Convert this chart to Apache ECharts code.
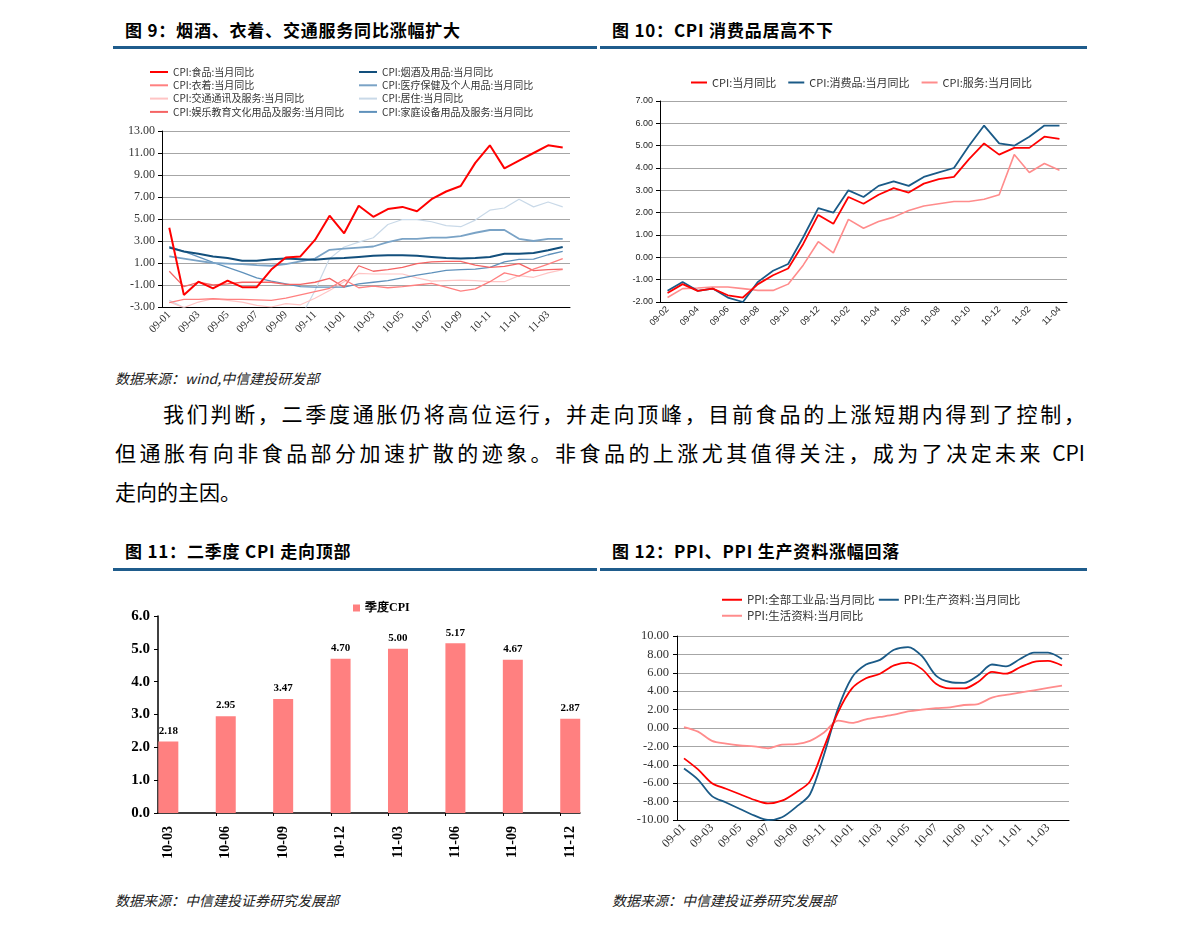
<!DOCTYPE html>
<html><head><meta charset="utf-8">
<script src="https://cdn.jsdelivr.net/npm/echarts@6/dist/echarts.min.js"></script>
<style>
body{margin:0;background:#fff;width:1191px;height:928px;position:relative;overflow:hidden;font-family:"Noto Sans CJK SC",sans-serif;}
.abs{position:absolute;}
.hdr{font-size:17px;line-height:20px;font-weight:bold;color:#000;white-space:nowrap;letter-spacing:0.8px;}
.rule{height:3px;background:#1f5c8c;}
.src{font-size:14px;line-height:18px;font-style:italic;color:#222;white-space:nowrap;}
.para{font-size:21px;line-height:26px;color:#000;white-space:nowrap;text-align:justify;text-align-last:justify;}
</style></head><body>
<div class="abs hdr" style="left:125px;top:20px;">图 9：烟酒、衣着、交通服务同比涨幅扩大</div>
<div class="abs hdr" style="left:612px;top:20px;">图 10：CPI 消费品居高不下</div>
<div class="abs rule" style="left:113px;top:46px;width:484px;"></div>
<div class="abs rule" style="left:600px;top:46px;width:487px;"></div>
<div id="c9" class="abs" style="left:110px;top:55px;width:480px;height:290px;"></div>
<div id="c10" class="abs" style="left:610px;top:60px;width:480px;height:285px;"></div>
<div class="abs src" style="left:115px;top:369px;">数据来源：wind,中信建投研发部</div>
<div class="abs para" style="left:163px;top:400px;width:922px;">我们判断，二季度通胀仍将高位运行，并走向顶峰，目前食品的上涨短期内得到了控制，</div>
<div class="abs para" style="left:115px;top:439px;width:970px;">但通胀有向非食品部分加速扩散的迹象。非食品的上涨尤其值得关注，成为了决定未来 CPI</div>
<div class="abs para" style="left:115px;top:478px;text-align-last:auto;">走向的主因。</div>
<div class="abs hdr" style="left:125px;top:541px;">图 11：二季度 CPI 走向顶部</div>
<div class="abs hdr" style="left:612px;top:541px;">图 12：PPI、PPI 生产资料涨幅回落</div>
<div class="abs rule" style="left:113px;top:568px;width:484px;"></div>
<div class="abs rule" style="left:600px;top:568px;width:487px;"></div>
<div id="c11" class="abs" style="left:110px;top:590px;width:480px;height:290px;"></div>
<div id="c12" class="abs" style="left:610px;top:580px;width:480px;height:300px;"></div>
<div class="abs src" style="left:115px;top:891px;">数据来源：中信建投证券研究发展部</div>
<div class="abs src" style="left:612px;top:891px;">数据来源：中信建投证券研究发展部</div>
<script>
// ---------- DATA ----------
const months28 = ['09-01','09-02','09-03','09-04','09-05','09-06','09-07','09-08','09-09','09-10','09-11','09-12',
  '10-01','10-02','10-03','10-04','10-05','10-06','10-07','10-08','10-09','10-10','10-11','10-12',
  '11-01','11-02','11-03','11-04'];
const months27 = ['09-02','09-03','09-04','09-05','09-06','09-07','09-08','09-09','09-10','09-11','09-12',
  '10-01','10-02','10-03','10-04','10-05','10-06','10-07','10-08','10-09','10-10','10-11','10-12',
  '11-01','11-02','11-03','11-04'];

// Fig 9
const food = [4.2,-1.9,-0.7,-1.3,-0.6,-1.2,-1.2,0.4,1.5,1.6,3.1,5.3,3.7,6.2,5.2,5.9,6.1,5.7,6.8,7.5,8.0,10.1,11.7,9.6,10.3,11.0,11.7,11.5];
const tobacco = [2.4,2.05,1.85,1.6,1.45,1.2,1.2,1.35,1.4,1.35,1.3,1.4,1.45,1.55,1.65,1.7,1.7,1.65,1.55,1.45,1.4,1.45,1.55,1.85,1.85,1.9,2.15,2.45];
const clothing = [-2.6,-2.3,-2.3,-2.25,-2.3,-2.3,-2.35,-2.4,-2.2,-1.9,-1.6,-1.3,-0.5,-1.25,-1.1,-1.25,-1.15,-1.0,-0.85,-1.2,-1.55,-1.35,-0.7,0.1,-0.2,0.45,0.9,1.4];
const medical = [1.6,1.4,1.2,1.0,0.95,0.9,0.8,0.75,0.9,1.15,1.4,2.2,2.3,2.4,2.5,2.9,3.2,3.2,3.3,3.3,3.45,3.75,4.0,4.0,3.2,3.0,3.2,3.2];
const transport = [-2.55,-3.05,-2.55,-2.25,-2.4,-2.55,-2.85,-3.0,-2.7,-2.8,-2.2,-1.5,-0.7,0.05,0.0,0.0,0.0,-0.35,-0.65,-0.6,-0.55,-0.6,-0.7,-0.7,-0.15,-0.3,0.1,0.4];
const residence = [-2.4,-3.05,-3.6,-4.0,-4.3,-4.5,-4.6,-4.6,-4.3,-4.0,-1.5,1.4,2.45,2.9,3.3,4.5,4.95,4.95,4.75,4.4,4.3,4.9,5.8,6.0,6.8,6.1,6.55,6.1];
const entertainment = [0.25,-1.15,-0.75,-1.0,-0.9,-0.75,-0.75,-0.75,-0.95,-0.95,-0.75,-0.4,-1.2,0.75,0.25,0.4,0.6,0.95,1.1,1.15,1.15,0.8,0.6,0.7,0.95,0.3,0.4,0.45];
const household = [2.5,2.05,1.55,1.05,0.6,0.15,-0.35,-0.65,-0.9,-1.15,-1.2,-1.2,-1.2,-0.9,-0.75,-0.6,-0.35,-0.1,0.1,0.33,0.4,0.45,0.6,1.1,1.33,1.35,1.75,2.05];
const fig9Names = ['CPI:食品:当月同比','CPI:衣着:当月同比','CPI:交通通讯及服务:当月同比','CPI:娱乐教育文化用品及服务:当月同比',
  'CPI:烟酒及用品:当月同比','CPI:医疗保健及个人用品:当月同比','CPI:居住:当月同比','CPI:家庭设备用品及服务:当月同比'];
const fig9Ticks = [-3,-1,1,3,5,7,9,11,13];

// Fig 10
const cpi = [-1.6,-1.2,-1.5,-1.4,-1.7,-1.8,-1.2,-0.8,-0.5,0.6,1.9,1.5,2.7,2.4,2.8,3.1,2.9,3.3,3.5,3.6,4.4,5.1,4.6,4.9,4.9,5.4,5.3];
const goods = [-1.5,-1.1,-1.5,-1.4,-1.8,-2.0,-1.1,-0.6,-0.3,0.9,2.2,2.0,3.0,2.7,3.2,3.4,3.2,3.6,3.8,4.0,5.0,5.9,5.1,5.0,5.4,5.9,5.9];
const services = [-1.8,-1.4,-1.37,-1.33,-1.33,-1.4,-1.48,-1.48,-1.2,-0.35,0.7,0.2,1.7,1.3,1.6,1.8,2.1,2.3,2.4,2.5,2.5,2.6,2.8,4.6,3.8,4.2,3.9];
const fig10Names = ['CPI:当月同比','CPI:消费品:当月同比','CPI:服务:当月同比'];

// Fig 11
const quarters = ['10-03','10-06','10-09','10-12','11-03','11-06','11-09','11-12'];
const quarterCpi = [2.18,2.95,3.47,4.70,5.00,5.17,4.67,2.87];
const fig11Name = '季度CPI';

// Fig 12
const ppiAll = [-3.3,-4.5,-6.0,-6.6,-7.2,-7.8,-8.2,-7.9,-7.0,-5.8,-2.1,1.7,4.3,5.4,5.9,6.8,7.1,6.4,4.8,4.3,4.3,5.0,6.1,5.9,6.6,7.2,7.3,6.8];
const ppiProd = [-4.4,-5.6,-7.4,-8.1,-8.8,-9.5,-10.0,-9.7,-8.6,-7.2,-2.9,2.1,5.5,6.9,7.4,8.5,8.8,7.8,5.7,5.0,4.9,5.7,6.9,6.7,7.5,8.2,8.2,7.5];
const ppiLiving = [0.1,-0.4,-1.4,-1.7,-1.9,-2.0,-2.2,-1.8,-1.75,-1.4,-0.5,0.8,0.55,0.95,1.2,1.45,1.8,2.0,2.15,2.25,2.5,2.6,3.3,3.6,3.85,4.1,4.35,4.6];
const fig12Names = ['PPI:全部工业品:当月同比','PPI:生产资料:当月同比','PPI:生活资料:当月同比'];

// ---------- CHARTS ----------
const SERIF = 'Liberation Serif, DejaVu Serif, serif';
const CJK = 'Noto Sans CJK SC, sans-serif';

function lineSeries(name, data, color, width, extra) {
  return Object.assign({ name, type: 'line', data, symbol: 'none', showSymbol: false, clip: true,
    lineStyle: { color, width }, itemStyle: { color }, emphasis: { disabled: true } }, extra || {});
}
function xCat(data, font, size, color) {
  return { type: 'category', data, boundaryGap: true,
    axisLine: { onZero: false, lineStyle: { color: '#000' } },
    axisTick: { interval: 1, length: 4, lineStyle: { color: '#000' } },
    axisLabel: { interval: 1, rotate: 45, fontFamily: font, fontSize: size, color, margin: 6 } };
}

// Fig 9
(function(){
  const ch = echarts.init(document.getElementById('c9'));
  const colors = ['#ff0000','#ff8080','#ffc4c4','#f56464','#124f7c','#7aa3c6','#c9d9e8','#5f91bb'];
  const data = [food, clothing, transport, entertainment, tobacco, medical, residence, household];
  const widths = [2,1.3,1.2,1.3,2,1.8,1.2,1.3];
  const order = [6,2,7,5,3,1,4,0];
  const series = order.map(i => lineSeries(fig9Names[i], data[i], colors[i], widths[i]));
  const legendCommon = { orient: 'vertical', icon: 'rect', itemWidth: 18, itemHeight: 2, itemGap: 1.3, top: 6,
    textStyle: { fontFamily: CJK, fontSize: 10, lineHeight: 12, color: '#333' } };
  ch.setOption({
    animation: false,
    legend: [
      Object.assign({ left: 35, data: fig9Names.slice(0,4) }, legendCommon),
      Object.assign({ left: 244, data: fig9Names.slice(4) }, legendCommon)
    ],
    grid: { left: 52, right: 20, top: 76, bottom: 38 },
    xAxis: xCat(months28, SERIF, 11, '#333'),
    yAxis: { type: 'value', min: fig9Ticks[0], max: fig9Ticks[fig9Ticks.length-1], interval: 2,
      axisLine: { show: true, onZero: false, lineStyle: { color: '#000' } },
      axisTick: { show: true, length: 4, lineStyle: { color: '#000' } },
      splitLine: { lineStyle: { color: '#a6a6a6' } },
      axisLabel: { formatter: v => v.toFixed(2), fontFamily: SERIF, fontSize: 12, color: '#333', margin: 7 } },
    series
  });
})();

// Fig 10
(function(){
  const ch = echarts.init(document.getElementById('c10'));
  ch.setOption({
    animation: false,
    legend: { left: 76, top: 12, icon: 'rect', itemWidth: 16, itemHeight: 2, itemGap: 12,
      data: fig10Names, textStyle: { fontFamily: CJK, fontSize: 11, color: '#333' } },
    grid: { left: 50, right: 23, top: 41, bottom: 43 },
    xAxis: xCat(months27, 'Liberation Sans, Arial, sans-serif', 9, '#222'),
    yAxis: { type: 'value', min: -2, max: 7, interval: 1,
      axisLine: { show: true, onZero: false, lineStyle: { color: '#000' } },
      axisTick: { show: true, length: 4, lineStyle: { color: '#000' } },
      splitLine: { lineStyle: { color: '#a6a6a6' } },
      axisLabel: { formatter: v => v.toFixed(2), fontFamily: 'Liberation Sans, Arial, sans-serif', fontSize: 9, color: '#222', margin: 7 } },
    series: [
      lineSeries(fig10Names[2], services, '#ff8c8c', 1.6),
      lineSeries(fig10Names[1], goods, '#1a5a87', 1.8),
      lineSeries(fig10Names[0], cpi, '#ff0000', 1.8)
    ]
  });
})();

// Fig 11
(function(){
  const ch = echarts.init(document.getElementById('c11'));
  const idx = quarters.map((q, i) => i);
  const BOLD = { fontFamily: SERIF, fontWeight: 'bold', color: '#000' };
  ch.setOption({
    animation: false,
    legend: { left: 238, top: 7, itemWidth: 7, itemHeight: 7, itemGap: 3, icon: 'rect', data: [fig11Name],
      textStyle: Object.assign({ fontSize: 12 }, BOLD) },
    grid: { left: 48, right: 10, top: 26, bottom: 67 },
    xAxis: { type: 'value', min: -0.18, max: 7.17,
      splitLine: { show: false },
      axisLine: { onZero: false, lineStyle: { color: '#000', width: 1.5 } },
      axisTick: { show: true, length: 3, customValues: idx.slice(1).map(i => i - 0.17), lineStyle: { color: '#000' } },
      axisLabel: { customValues: idx, formatter: v => quarters[Math.round(v)], rotate: 90,
        fontSize: 14, margin: 13, fontFamily: SERIF, fontWeight: 'bold', color: '#000' } },
    yAxis: { type: 'value', min: 0, max: 6, interval: 1,
      axisLine: { show: true, onZero: false, lineStyle: { color: '#000', width: 1.5 } },
      axisTick: { show: true, length: 4, lineStyle: { color: '#000' } },
      splitLine: { show: false },
      axisLabel: Object.assign({ formatter: v => v.toFixed(1), fontSize: 15, margin: 8 }, BOLD) },
    series: [{ name: fig11Name, type: 'bar', barWidth: 20,
      data: quarterCpi.map((v, i) => [i, v]),
      itemStyle: { color: '#ff8080' },
      label: Object.assign({ show: true, position: 'top', distance: 5, fontSize: 11,
        formatter: p => p.value[1].toFixed(2) }, BOLD) }]
  });
})();

// Fig 12
(function(){
  const ch = echarts.init(document.getElementById('c12'));
  const lg = { left: 107, icon: 'rect', itemWidth: 20, itemHeight: 2, itemGap: 4,
    textStyle: { fontFamily: CJK, fontSize: 11.5, color: '#333' } };
  ch.setOption({
    animation: false,
    legend: [
      Object.assign({ top: 9, data: fig12Names.slice(0,2) }, lg),
      Object.assign({ top: 25, data: fig12Names.slice(2) }, lg)
    ],
    grid: { left: 67, right: 21, top: 56, bottom: 60 },
    xAxis: xCat(months28, SERIF, 12, '#333'),
    yAxis: { type: 'value', min: -10, max: 10, interval: 2,
      axisLine: { show: true, onZero: false, lineStyle: { color: '#000' } },
      axisTick: { show: true, length: 4, lineStyle: { color: '#000' } },
      splitLine: { lineStyle: { color: '#a6a6a6' } },
      axisLabel: { formatter: v => v.toFixed(2), fontFamily: SERIF, fontSize: 12.5, color: '#333', margin: 8 } },
    series: [
      lineSeries(fig12Names[2], ppiLiving, '#ff8c8c', 1.8, { smooth: 0.3 }),
      lineSeries(fig12Names[1], ppiProd, '#1a5a87', 1.8, { smooth: 0.3 }),
      lineSeries(fig12Names[0], ppiAll, '#ff0000', 1.8, { smooth: 0.3 })
    ]
  });
})();
</script>
</body></html>
